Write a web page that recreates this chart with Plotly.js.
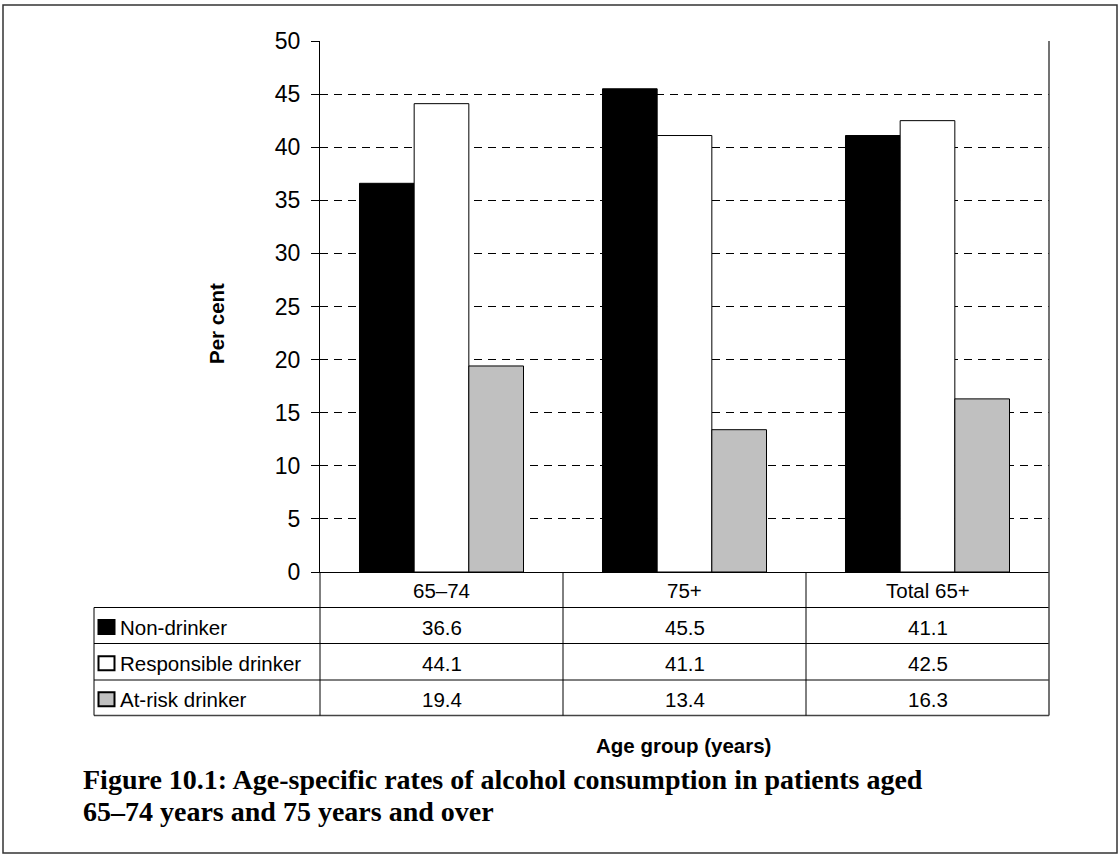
<!DOCTYPE html>
<html>
<head>
<meta charset="utf-8">
<script src="https://cdn.plot.ly/plotly-3.0.1.min.js"></script>
<style>
  html, body { margin: 0; padding: 0; background: #ffffff; }
  #chart { width: 1119px; height: 856px; }
</style>
</head>
<body>
<div id="chart"></div>
<script>
// Age groups shown along the x axis and in the data table
const ageGroups = ['65–74', '75+', 'Total 65+'];

// Series (per cent of patients)
const seriesNames = ['Non-drinker', 'Responsible drinker', 'At-risk drinker'];
const nonDrinker = [36.6, 45.5, 41.1];
const responsibleDrinker = [44.1, 41.1, 42.5];
const atRiskDrinker = [19.4, 13.4, 16.3];
const seriesValues = [nonDrinker, responsibleDrinker, atRiskDrinker];
const seriesFills = ['#000000', '#ffffff', '#c0c0c0'];

// Y axis ticks
const yTicks = [0, 5, 10, 15, 20, 25, 30, 35, 40, 45, 50];

// Page geometry (pixels) used to place the data table below the plot
const W = 1119, H = 856;
const M = { l: 320, r: 70, t: 41, b: 284 };
const plotW = W - M.l - M.r;
const plotH = H - M.t - M.b;
const px = x => (x - M.l) / plotW;          // pixel x -> paper x
const py = y => (H - M.b - y) / plotH;      // pixel y -> paper y

const sans = '"Liberation Sans", Arial, sans-serif';
const serif = '"Liberation Serif", "Times New Roman", serif';

const traces = seriesNames.map((name, i) => ({
  type: 'bar',
  name: name,
  x: ageGroups,
  y: seriesValues[i],
  marker: { color: seriesFills[i], line: { color: '#000000', width: 1 } },
  showlegend: false,
  hoverinfo: 'skip'
}));

// Table rows: y lines and row centres (pixels)
const axisY = H - M.b;               // 572
const rowLines = [607.5, 643.5, 680, 715.5];
const catRowMid = (axisY + rowLines[0]) / 2;
const seriesRowMid = [0, 1, 2].map(i => (rowLines[i] + rowLines[i + 1]) / 2 + 1.5);
const tableLeft = 94;

const lineStyle = { color: '#000000', width: 1 };
const shapes = [];

// Horizontal table rules
rowLines.forEach((yy, k) => {
  shapes.push({
    type: 'line', xref: 'paper', yref: 'paper',
    x0: px(tableLeft), x1: 1, y0: py(yy), y1: py(yy),
    line: k === rowLines.length - 1 ? { color: '#444444', width: 1.5 } : lineStyle
  });
});
// Left table edge
shapes.push({
  type: 'line', xref: 'paper', yref: 'paper',
  x0: px(tableLeft), x1: px(tableLeft), y0: py(rowLines[0]), y1: py(rowLines[3]),
  line: lineStyle
});
// Column divider under the y axis
shapes.push({
  type: 'line', xref: 'paper', yref: 'paper',
  x0: 0, x1: 0, y0: 0, y1: py(rowLines[3]),
  line: lineStyle
});
// Column dividers between age groups (category boundaries)
[0.5, 1.5].forEach(xv => {
  shapes.push({
    type: 'line', xref: 'x', yref: 'paper',
    x0: xv, x1: xv, y0: 0, y1: py(rowLines[3]),
    line: lineStyle
  });
});
// Right edge of plot area and table
shapes.push({
  type: 'line', xref: 'paper', yref: 'paper',
  x0: 1, x1: 1, y0: 1, y1: py(rowLines[3]),
  line: { color: '#444444', width: 1.5 }
});
// Legend keys in the table
seriesFills.forEach((c, i) => {
  shapes.push({
    type: 'rect', xref: 'paper', yref: 'paper',
    x0: px(98.5), x1: px(114.5),
    y0: py(seriesRowMid[i] - 7), y1: py(seriesRowMid[i] + 7),
    fillcolor: c, line: { color: '#000000', width: 2 }
  });
});
// Outer frame
shapes.push({
  type: 'rect', xref: 'paper', yref: 'paper',
  x0: px(3), x1: px(1117), y0: py(5), y1: py(853),
  line: { color: '#333333', width: 1.5 }
});

const annotations = [];
// Age group labels in the table header row
ageGroups.forEach(g => {
  annotations.push({
    xref: 'x', yref: 'paper', x: g, y: py(catRowMid + 1),
    text: g, showarrow: false, xanchor: 'center', yanchor: 'middle',
    font: { family: sans, size: 20.5, color: '#000000' }
  });
});
// Series names and values
seriesNames.forEach((name, i) => {
  annotations.push({
    xref: 'paper', yref: 'paper', x: px(118), y: py(seriesRowMid[i]),
    text: name, showarrow: false, xanchor: 'left', yanchor: 'middle',
    font: { family: sans, size: 20.5, color: '#000000' }
  });
  seriesValues[i].forEach((v, j) => {
    annotations.push({
      xref: 'x', yref: 'paper', x: ageGroups[j], y: py(seriesRowMid[i]),
      text: v.toFixed(1), showarrow: false, xanchor: 'center', yanchor: 'middle',
      font: { family: sans, size: 20.5, color: '#000000' }
    });
  });
});
// Axis titles
annotations.push({
  xref: 'paper', yref: 'paper', x: px(216), y: py(324),
  text: '<b>Per cent</b>', textangle: -90, showarrow: false,
  xanchor: 'center', yanchor: 'middle',
  font: { family: sans, size: 20.5, color: '#000000' }
});
annotations.push({
  xref: 'paper', yref: 'paper', x: px(683), y: py(745),
  text: '<b>Age group (years)</b>', showarrow: false,
  xanchor: 'center', yanchor: 'middle',
  font: { family: sans, size: 20.5, color: '#000000' }
});
// Figure caption
['Figure 10.1: Age-specific rates of alcohol consumption in patients aged',
 '65–74 years and 75 years and over'].forEach((line, k) => {
  annotations.push({
    xref: 'paper', yref: 'paper', x: px(81), y: py(779 + 32 * k),
    text: '<b>' + line + '</b>', showarrow: false,
    xanchor: 'left', yanchor: 'middle',
    font: { family: serif, size: 28, color: '#000000' }
  });
});

const layout = {
  width: W, height: H,
  margin: M,
  paper_bgcolor: '#ffffff',
  plot_bgcolor: '#ffffff',
  barmode: 'group',
  bargap: 0.325,
  bargroupgap: 0,
  xaxis: {
    type: 'category',
    range: [-0.5, 2.5],
    showline: true, linecolor: '#000000', linewidth: 1,
    showticklabels: false, ticks: '',
    showgrid: false, zeroline: false, fixedrange: true
  },
  yaxis: {
    range: [0, 50],
    tickvals: yTicks,
    ticktext: yTicks.map(String),
    showline: true, linecolor: '#000000', linewidth: 1,
    ticks: 'outside', ticklen: 8, tickcolor: '#000000', tickwidth: 1,
    ticklabelstandoff: 6,
    tickfont: { family: sans, size: 23, color: '#000000' },
    showgrid: true, gridcolor: '#000000', gridwidth: 1, griddash: '8px,6px',
    zeroline: false, fixedrange: true
  },
  shapes: shapes,
  annotations: annotations
};

Plotly.newPlot('chart', traces, layout, { staticPlot: true, displayModeBar: false });
</script>
</body>
</html>
